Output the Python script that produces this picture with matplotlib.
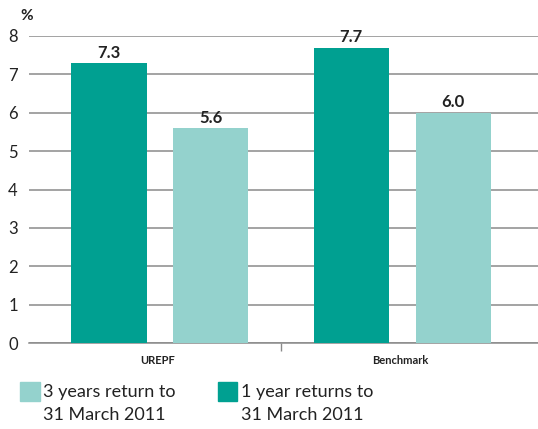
import numpy as np
import matplotlib.pyplot as plt
from matplotlib.patches import Patch

# data
groups = ["UREPF", "Benchmark"]
one_year = [7.3, 7.7]
three_year = [5.6, 6.0]
labels_top = ["3 years return to", "1 year returns to"]
labels_bottom = ["31 March 2011", "31 March 2011"]

dark = "#00A091"
light = "#94D2CD"
grid_col = "#8a8a8a"

plt.rcParams['font.family'] = ['Lato', 'DejaVu Sans']

W, H = 538, 429
fig = plt.figure(figsize=(W / 100, H / 100), dpi=100)
ax = fig.add_axes([29 / W, 1 - 343 / H, 1 - 29 / W, (343 - 36) / H])

x = np.arange(len(groups))
w = 0.31
b1 = ax.bar(x - 0.21, one_year, w, color=dark, zorder=3)
b2 = ax.bar(x + 0.21, three_year, w, color=light, zorder=3)

for bars in (b1, b2):
    for r in bars:
        ax.text(r.get_x() + r.get_width() / 2, r.get_height() + 0.06, f"{r.get_height():.1f}",
                ha="center", va="bottom", fontsize=12, fontweight="bold", color="#222222")

ax.set_xlim(-0.54, 1.56)
ax.set_ylim(0, 8)
ax.set_yticks(range(0, 9))
ax.yaxis.grid(True, color=grid_col, linewidth=1.1, zorder=0)
ax.tick_params(axis="y", length=0, labelsize=12, pad=8, colors="#222222")
for s in ["top", "right", "left"]:
    ax.spines[s].set_visible(False)
ax.spines["bottom"].set_color(grid_col)
ax.spines["bottom"].set_linewidth(1.1)

ax.set_xticks([0.5])
ax.set_xticklabels([""])
ax.tick_params(axis="x", length=6, color=grid_col, width=1)
for xi, g in zip(x, groups):
    ax.text(xi - 0.01, -0.45, g, ha="center", va="center", fontsize=8, fontweight="bold",
            color="#222222")

fig.text(20 / W, 1 - 16 / H, "%", fontsize=11, fontweight="bold", va="center", color="#222222")

handles = [Patch(color=light), Patch(color=dark)]
leg = fig.legend(handles, labels_top, ncol=2, loc="upper left",
                 bbox_to_anchor=(20 / W, 1 - 382 / H), borderpad=0, borderaxespad=0,
                 frameon=False, fontsize=13, handlelength=1.1, handleheight=1.2,
                 handletextpad=0.2, columnspacing=2.3)
for t in leg.get_texts():
    t.set_color("#222222")

# second line of each legend label, placed under the first
fig.canvas.draw()
for t, s in zip(leg.get_texts(), labels_bottom):
    bb = t.get_window_extent()
    fig.text(bb.x0 / W, 1 - 415 / H, s, fontsize=13, va="center", ha="left", color="#222222")

plt.savefig("out.png", dpi=100)
